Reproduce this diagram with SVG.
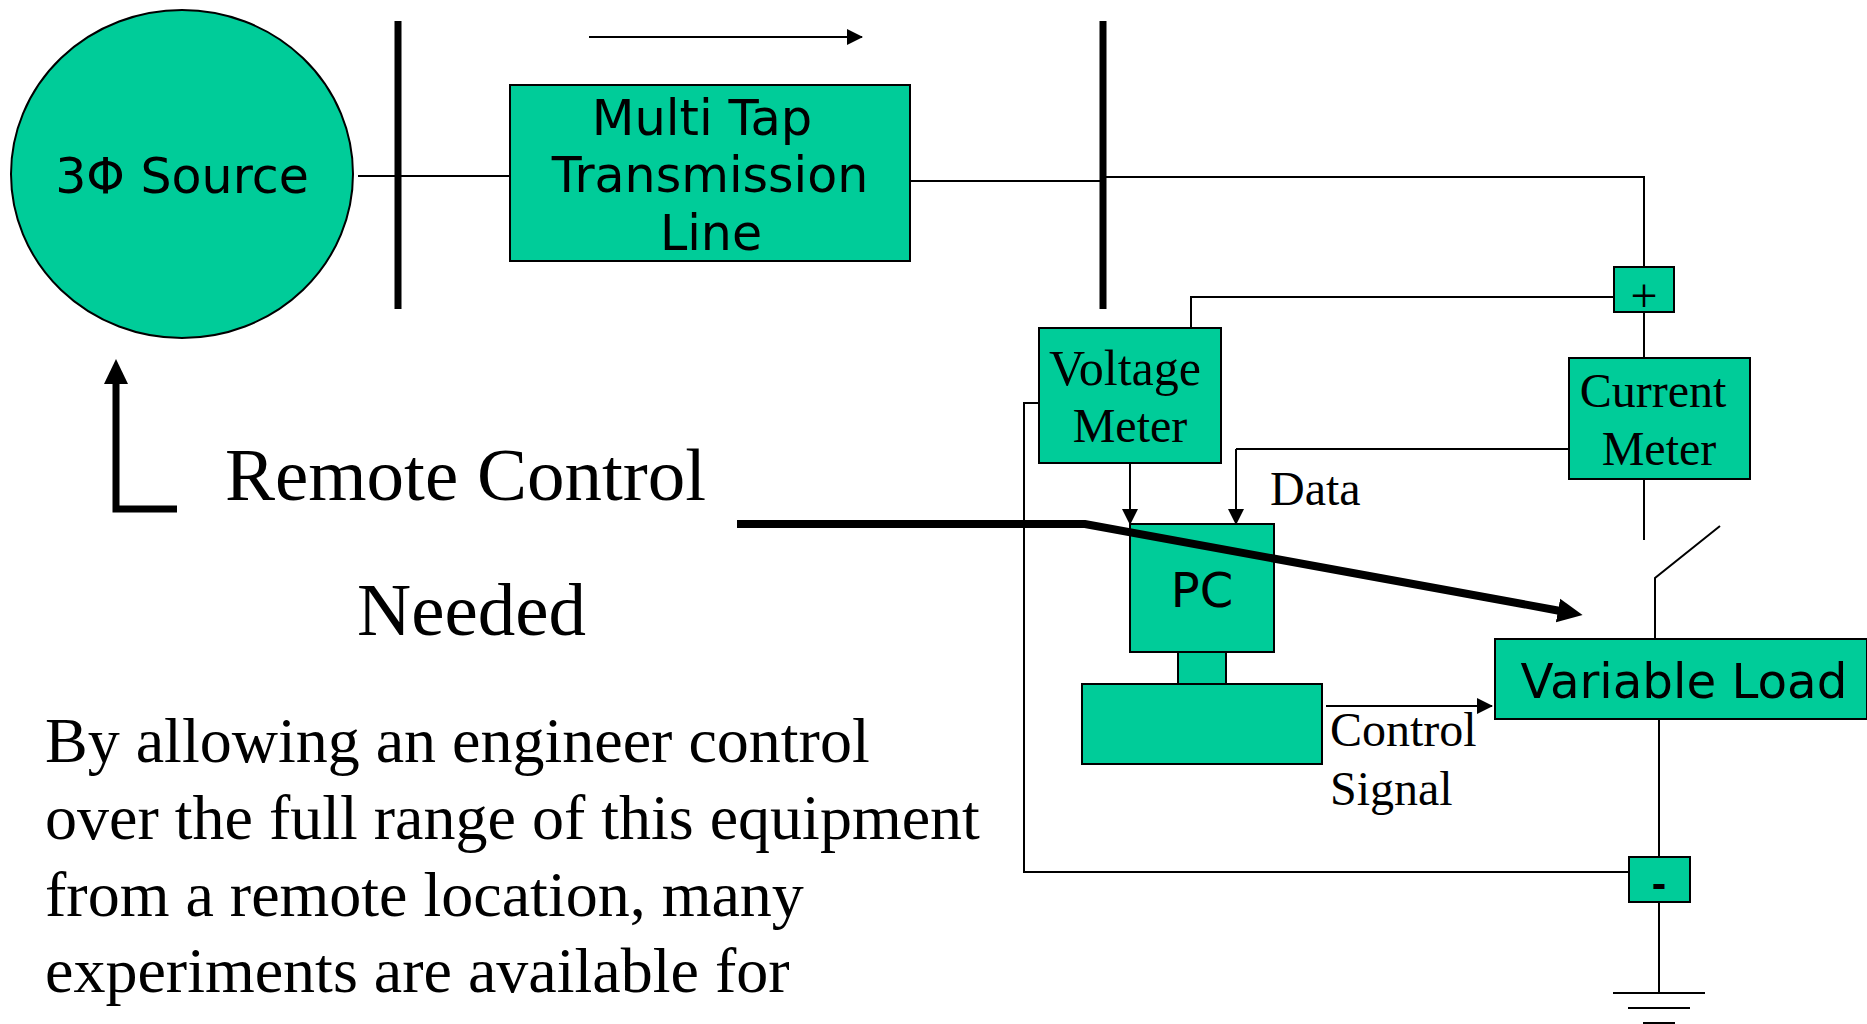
<svg xmlns="http://www.w3.org/2000/svg" width="1867" height="1024" viewBox="0 0 1867 1024">
<defs><marker id="a" markerWidth="16" markerHeight="16" refX="15" refY="8" orient="auto" markerUnits="userSpaceOnUse"><path d="M0 0L16 8L0 16Z" fill="#000"/></marker>
<marker id="b" markerWidth="26" markerHeight="26" refX="1" refY="13" orient="auto" markerUnits="userSpaceOnUse"><path d="M0 1L25 13L0 25Z" fill="#000"/></marker></defs>
<style>.n{fill:#00cc99;stroke:#000;stroke-width:2}.s{font-family:"DejaVu Sans",sans-serif;fill:#000;text-anchor:middle}.t{font-family:"Liberation Serif",serif;fill:#000}.m{text-anchor:middle}.c{fill:none;stroke:#000;stroke-width:2}.h{fill:none;stroke:#000;stroke-width:7}</style>
<rect width="1867" height="1024" fill="#fff"/>
<g id="source"><ellipse class="n" cx="182" cy="174" rx="171" ry="164"/><text class="s" x="182" y="193" font-size="49">3Φ Source</text></g>
<g id="line"><rect class="n" x="510" y="85" width="400" height="176"/><text class="s" x="702" y="135" font-size="49.5">Multi Tap</text><text class="s" x="710" y="192" font-size="49">Transmission</text><text class="s" x="711" y="250" font-size="49">Line</text></g>
<g id="vm"><rect class="n" x="1039" y="328" width="182" height="135"/><text class="t m" x="1125" y="385" font-size="50">Voltage</text><text class="t m" x="1130" y="442" font-size="48">Meter</text></g>
<g id="cm"><rect class="n" x="1569" y="358" width="181" height="121"/><text class="t m" x="1653" y="407" font-size="48">Current</text><text class="t m" x="1659" y="465" font-size="48">Meter</text></g>
<g id="plus"><rect class="n" x="1614" y="267" width="60" height="45"/><text class="t m" x="1644" y="312" font-size="48">+</text></g>
<g id="minus"><rect class="n" x="1629" y="857" width="61" height="45"/><text class="s" x="1659" y="897" font-size="36" font-weight="bold">-</text></g>
<g id="pc"><rect class="n" x="1178" y="651" width="48" height="34"/><rect class="n" x="1082" y="684" width="240" height="80"/><rect class="n" x="1130" y="524" width="144" height="128"/><text class="s" x="1202" y="607" font-size="48">PC</text></g>
<g id="load"><rect class="n" x="1495" y="639" width="372" height="80"/><text class="s" x="1684" y="698" font-size="48.3">Variable Load</text></g>
<g id="connectors">
<path class="c" d="M358 176H510M910 181H1103M1103 177H1644V267M1644 312V358M1644 480V540M1659 720V857M1659 902V993M1191 328V297H1614M1569 449H1236"/>
<path class="c" d="M1655 638V578L1720 526"/>
<path class="c" d="M1039 403H1024V872H1629"/>
<path class="c" marker-end="url(#a)" d="M589 37H862"/>
<path class="c" marker-end="url(#a)" d="M1130 463V524"/>
<path class="c" marker-end="url(#a)" d="M1236 449V524"/>
<path class="c" marker-end="url(#a)" d="M1326 706H1492"/>
<path class="h" d="M398 21V309M1103 21V309"/>
<path class="h" marker-end="url(#b)" d="M177 509H116V383"/>
<path class="h" style="stroke-width:8" marker-end="url(#b)" d="M737 524H1085L1559 610.7"/>
<path class="c" d="M1613 993H1705M1628 1008H1690M1643 1023H1675"/>
</g>
<g id="labels">
<text class="t" x="1270" y="505" font-size="48">Data</text>
<text class="t" x="1330" y="746" font-size="48">Control</text><text class="t" x="1330" y="805" font-size="48">Signal</text>
<text class="t m" x="465.500" y="500" font-size="75">Remote Control</text>
<text class="t m" x="471.500" y="635" font-size="75">Needed</text>
<text class="t" font-size="64"><tspan x="45" y="762">By allowing an engineer control</tspan><tspan x="45" y="839">over the full range of this equipment</tspan><tspan x="45" y="916">from a remote location, many</tspan><tspan x="45" y="992">experiments are available for</tspan></text>
</g>
</svg>
